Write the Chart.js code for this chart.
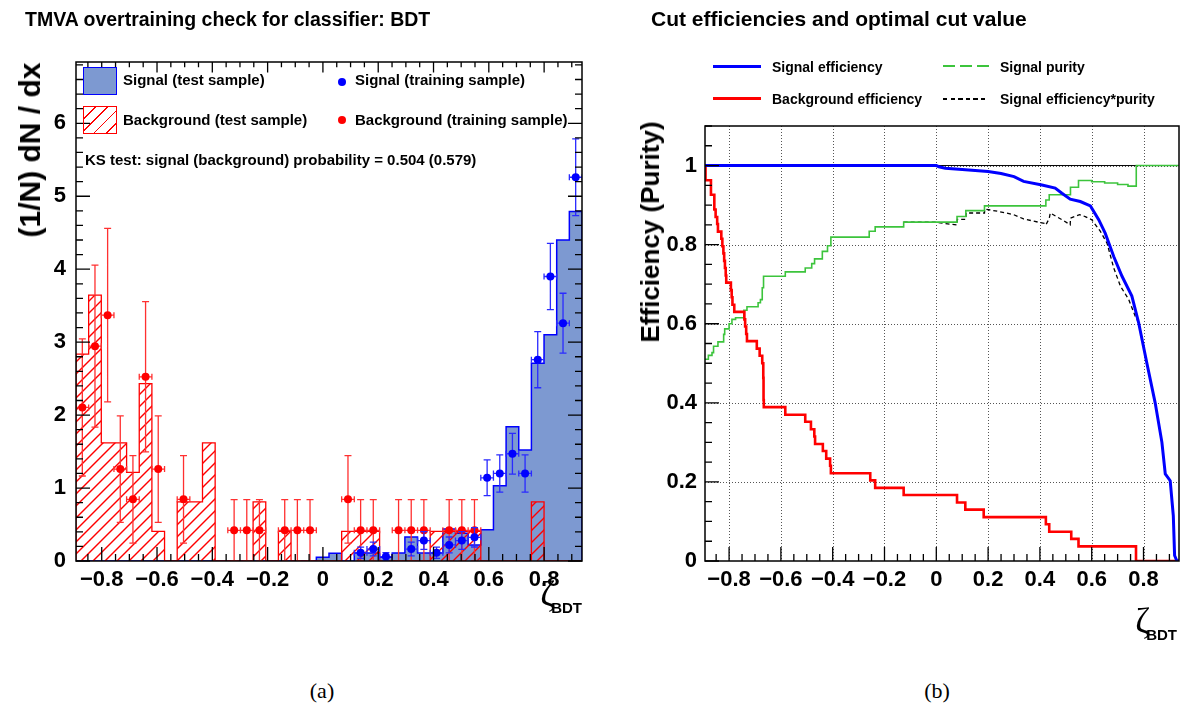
<!DOCTYPE html>
<html>
<head>
<meta charset="utf-8">
<script src="https://cdn.jsdelivr.net/npm/chart.js@4/dist/chart.umd.min.js"></script>
<style>
html,body{margin:0;padding:0;background:#fff;}
body{width:1184px;height:708px;position:relative;overflow:hidden;font-family:"Liberation Sans",Arial,Helvetica,sans-serif;color:#000;}
canvas{position:absolute;top:0;}
.t{position:absolute;white-space:nowrap;font-weight:bold;line-height:1;}
.rot{position:absolute;white-space:nowrap;font-weight:bold;line-height:1;transform:translate(-50%,-50%) rotate(-90deg);}
.cap{position:absolute;font-family:"Liberation Serif","DejaVu Serif",serif;font-size:22px;line-height:1;transform:translateX(-50%);}
.zeta{position:absolute;line-height:1;white-space:nowrap;font-size:36px;}
.zeta .g{font-family:"Liberation Serif",serif;font-size:36px;}
.zeta .s{font-family:"Liberation Sans",sans-serif;font-weight:bold;font-size:15px;position:relative;top:7px;margin-left:-4px;}
.ln{position:absolute;}
</style>
</head>
<body>
<canvas id="cA" width="600" height="620" style="left:0"></canvas>
<canvas id="cB" width="584" height="620" style="left:600px"></canvas>

<div class="t" style="left:25px;top:10px;font-size:19.5px">TMVA overtraining check for classifier: BDT</div>
<div class="t" style="left:651px;top:8px;font-size:21px">Cut efficiencies and optimal cut value</div>

<!-- left legend -->
<div class="ln" style="left:83px;top:67px;width:32px;height:26px;background:#7d99d1;border:1px solid #0000ff;"></div>
<div class="t" style="left:123px;top:72px;font-size:15px">Signal (test sample)</div>
<div class="ln" style="left:83px;top:106px;width:32px;height:26px;border:1px solid #ff0000;background:repeating-linear-gradient(135deg,transparent 0 7.5px,#ff0000 7.5px 8.7px);"></div>
<div class="t" style="left:123px;top:112px;font-size:15px">Background (test sample)</div>
<div class="ln" style="left:338px;top:78px;width:8px;height:8px;border-radius:50%;background:#0000ff"></div>
<div class="t" style="left:355px;top:72px;font-size:15px">Signal (training sample)</div>
<div class="ln" style="left:338px;top:116px;width:8px;height:8px;border-radius:50%;background:#ff0000"></div>
<div class="t" style="left:355px;top:112px;font-size:15px">Background (training sample)</div>
<div class="t" style="left:85px;top:152px;font-size:15px">KS test: signal (background) probability = 0.504 (0.579)</div>

<!-- right legend -->
<div class="ln" style="left:713px;top:65px;width:48px;height:3px;background:#0000ff"></div>
<div class="t" style="left:772px;top:60px;font-size:14px">Signal efficiency</div>
<div class="ln" style="left:713px;top:97px;width:48px;height:3px;background:#ff0000"></div>
<div class="t" style="left:772px;top:92px;font-size:14px">Background efficiency</div>
<div class="ln" style="left:943px;top:65px;width:46px;height:2px;background:repeating-linear-gradient(90deg,#3cc43c 0 12px,transparent 12px 17px)"></div>
<div class="t" style="left:1000px;top:60px;font-size:14px">Signal purity</div>
<div class="ln" style="left:943px;top:98px;width:46px;height:1.5px;background:repeating-linear-gradient(90deg,#000 0 4.5px,transparent 4.5px 7.6px)"></div>
<div class="t" style="left:1000px;top:92px;font-size:14px">Signal efficiency*purity</div>

<!-- axis titles -->
<div class="rot" style="left:30px;top:150px;font-size:30px">(1/N) dN / dx</div>
<div class="rot" style="left:650px;top:232px;font-size:26px">Efficiency (Purity)</div>
<div class="zeta" style="right:602px;top:576px"><span class="g">ζ</span><span class="s">BDT</span></div>
<div class="zeta" style="right:7px;top:603px"><span class="g">ζ</span><span class="s">BDT</span></div>

<div class="cap" style="left:322px;top:680px">(a)</div>
<div class="cap" style="left:937px;top:680px">(b)</div>

<script>
// ---------------- Left panel: classifier output histograms ----------------
const binLo = -0.893, binHi = 0.937, nBins = 40;

const sigTest = [0,0,0,0,0,0,0,0,0,0, 0,0,0,0,0,0,0,0,0,0.05,
                 0.105,0,0.11,0.11,0.05,0.11,0.33,0.11,0.11,0.44,
                 0.38,0.22,0.43,1.03,1.84,1.52,2.71,3.10,4.40,4.79];
const bkgTest = [2.835,3.645,1.62,1.62,1.215,2.43,0.405,0,0.81,0.81,
                 1.62,0,0,0,0.81,0,0.405,0,0,0,
                 0,0.405,0.405,0.405,0,0,0,0,0.405,0.405,
                 0.405,0.405,0,0,0,0,0.81,0,0,0];
const sigTrain = [null,null,null,null,null,null,null,null,null,null,
                  null,null,null,null,null,null,null,null,null,null,
                  null,null,0.114,0.164,0.06,null,0.164,0.28,0.114,0.22,
                  0.28,0.325,1.14,1.20,1.47,1.20,2.76,3.90,3.26,5.26];
const sigTrainErr = [0,0,0,0,0,0,0,0,0,0, 0,0,0,0,0,0,0,0,0,0,
                     0,0,0.077,0.094,0.055,0,0.094,0.122,0.077,0.109,
                     0.122,0.133,0.245,0.255,0.28,0.255,0.385,0.455,0.41,0.525];
const bkgTrain = [2.105,2.945,3.37,1.26,0.845,2.525,1.26,null,0.845,null,
                  null,null,0.42,0.42,0.42,null,0.42,0.42,0.42,null,
                  null,0.845,0.42,0.42,null,0.42,0.42,0.42,null,0.42,
                  0.42,0.42,null,null,null,null,null,null,null,null];
const bkgTrainErr = [0.94,1.11,1.19,0.73,0.6,1.03,0.73,0,0.6,0,
                     0,0,0.42,0.42,0.42,0,0.42,0.42,0.42,0,
                     0,0.6,0.42,0.42,0,0.42,0.42,0.42,0,0.42,
                     0.42,0.42,0,0,0,0,0,0,0,0];

const xTicks = [-0.8,-0.6,-0.4,-0.2,0,0.2,0.4,0.6,0.8];
const xTickLabels = ['\u22120.8','\u22120.6','\u22120.4','\u22120.2','0','0.2','0.4','0.6','0.8'];
const yTicksA = [0,1,2,3,4,5,6];
const yTickLabelsA = ['0','1','2','3','4','5','6'];
const yMaxA = 6.84;

// ---------------- Right panel: cut efficiencies ----------------
const effSigX = [-0.893,0.000,0.010,0.035,0.100,0.200,0.250,0.300,0.337,0.408,0.459,0.485,0.517,0.556,0.595,0.627,0.652,0.685,0.717,0.755,0.781,0.813,0.845,0.871,0.884,0.903,0.915,0.920,0.929,0.937];
const effSigY = [1.000,1.000,0.997,0.993,0.990,0.985,0.980,0.972,0.960,0.951,0.943,0.930,0.915,0.909,0.898,0.863,0.829,0.770,0.720,0.670,0.603,0.500,0.400,0.300,0.220,0.203,0.115,0.014,0.000,0.000];

const effBkgX = [-0.893,-0.891,-0.870,-0.857,-0.852,-0.846,-0.843,-0.830,-0.826,-0.822,-0.819,-0.816,-0.813,-0.811,-0.793,-0.790,-0.787,-0.780,-0.741,-0.738,-0.734,-0.731,-0.693,-0.682,-0.672,-0.668,-0.667,-0.666,-0.583,-0.506,-0.484,-0.471,-0.468,-0.438,-0.425,-0.410,-0.407,-0.255,-0.236,-0.126,0.080,0.112,0.183,0.423,0.436,0.521,0.549,0.771,0.937];
const effBkgY = [1.000,0.963,0.926,0.889,0.870,0.852,0.833,0.815,0.796,0.778,0.759,0.741,0.722,0.704,0.685,0.667,0.648,0.630,0.611,0.593,0.574,0.556,0.537,0.519,0.500,0.463,0.407,0.389,0.370,0.352,0.333,0.315,0.296,0.278,0.259,0.241,0.222,0.204,0.185,0.167,0.148,0.130,0.111,0.093,0.074,0.056,0.037,0.000,0.000];

const purX = [-0.893,-0.880,-0.866,-0.860,-0.843,-0.821,-0.817,-0.800,-0.789,-0.775,-0.743,-0.731,-0.688,-0.679,-0.672,-0.667,-0.583,-0.506,-0.481,-0.470,-0.440,-0.420,-0.407,-0.259,-0.236,-0.126,0.080,0.114,0.186,0.423,0.436,0.518,0.549,0.600,0.650,0.700,0.740,0.772,0.937];
const purY = [0.510,0.520,0.527,0.543,0.554,0.573,0.587,0.600,0.611,0.615,0.634,0.643,0.653,0.661,0.691,0.720,0.731,0.741,0.752,0.764,0.783,0.797,0.819,0.834,0.845,0.857,0.871,0.886,0.898,0.913,0.926,0.945,0.962,0.959,0.956,0.952,0.948,1.000,1.000];

const effPurX = [-0.126,0.000,0.035,0.080,0.081,0.114,0.115,0.186,0.187,0.240,0.298,0.337,0.421,0.423,0.436,0.440,0.466,0.491,0.517,0.518,0.553,0.575,0.600,0.633,0.659,0.685,0.711,0.743,0.768,0.781,0.813,0.845,0.871,0.884,0.903,0.915,0.920,0.929];
const effPurY = [0.857,0.857,0.853,0.850,0.864,0.864,0.880,0.880,0.890,0.884,0.876,0.865,0.853,0.850,0.866,0.880,0.870,0.861,0.850,0.867,0.876,0.871,0.863,0.834,0.804,0.741,0.695,0.661,0.619,0.603,0.500,0.400,0.300,0.220,0.203,0.115,0.014,0.000];

const unityX = [binLo, binHi];
const unityY = [1, 1];

const yTicksB = [0,0.2,0.4,0.6,0.8,1];
const yTickLabelsB = ['0','0.2','0.4','0.6','0.8','1'];
const yMaxB = 1.1;

// ---------------- helpers ----------------
const binW = (binHi - binLo) / nBins;
const edge = i => binLo + i * binW;
function histPoints(vals) {
  const pts = [{x: edge(0), y: 0}];
  vals.forEach((v, i) => pts.push({x: edge(i), y: v}));
  pts.push({x: edge(nBins), y: vals[nBins - 1]});
  pts.push({x: edge(nBins), y: 0});
  return pts;
}
function pointData(vals, errs) {
  const out = [];
  vals.forEach((v, i) => { if (v != null) out.push({x: edge(i) + binW / 2, y: v, e: errs[i]}); });
  return out;
}
const xy = (xs, ys) => xs.map((x, i) => ({x, y: ys[i]}));

function rootAxes(cfg) {
  return {
    id: 'rootAxes',
    beforeDatasetsDraw(chart) {
      if (!cfg.grid) return;
      const {ctx, chartArea: a, scales: {x, y}} = chart;
      ctx.save();
      ctx.strokeStyle = '#555'; ctx.lineWidth = 1; ctx.setLineDash([1, 2]);
      ctx.beginPath();
      cfg.xMajor.forEach(v => { const p = Math.round(x.getPixelForValue(v)) + 0.5; ctx.moveTo(p, a.top); ctx.lineTo(p, a.bottom); });
      cfg.yMajor.forEach(v => { if (v <= 0) return; const p = Math.round(y.getPixelForValue(v)) + 0.5; ctx.moveTo(a.left, p); ctx.lineTo(a.right, p); });
      ctx.stroke();
      ctx.restore();
    },
    afterDatasetsDraw(chart) {
      const {ctx, chartArea: a, scales: {x, y}} = chart;
      ctx.save();
      ctx.strokeStyle = '#000'; ctx.lineWidth = 1.3; ctx.setLineDash([]);
      const isMajor = (v, arr) => arr.some(m => Math.abs(m - v) < 1e-6);
      ctx.beginPath();
      for (let k = Math.ceil(x.min / cfg.xStep - 1e-9); k * cfg.xStep <= x.max + 1e-9; k++) {
        const v = k * cfg.xStep, p = x.getPixelForValue(v);
        const L = isMajor(v, cfg.xMajor) ? cfg.major : cfg.minor;
        ctx.moveTo(p, a.bottom); ctx.lineTo(p, a.bottom - L);
        if (cfg.mirror) { ctx.moveTo(p, a.top); ctx.lineTo(p, a.top + L * 0.75); }
      }
      for (let k = Math.ceil(y.min / cfg.yStep - 1e-9); k * cfg.yStep <= y.max + 1e-9; k++) {
        const v = k * cfg.yStep, p = y.getPixelForValue(v);
        const L = isMajor(v, cfg.yMajor) ? cfg.major : cfg.minor;
        ctx.moveTo(a.left, p); ctx.lineTo(a.left + L, p);
        if (cfg.mirror) { ctx.moveTo(a.right, p); ctx.lineTo(a.right - L, p); }
      }
      ctx.stroke();
      ctx.lineWidth = cfg.frame;
      ctx.strokeRect(a.left, a.top, a.right - a.left, a.bottom - a.top);
      ctx.restore();
    }
  };
}

// diagonal hatching inside the stepped histogram, using the element positions computed by Chart.js
const hatch = {
  id: 'hatch',
  beforeDatasetDraw(chart, args) {
    const ds = chart.data.datasets[args.index];
    if (!ds.hatchColor) return;
    const pts = args.meta.data;
    const {ctx, chartArea: a, scales: {y}} = chart;
    const y0 = y.getPixelForValue(0);
    ctx.save();
    ctx.beginPath(); ctx.rect(a.left, a.top, a.right - a.left, a.bottom - a.top); ctx.clip();
    ctx.beginPath();
    ctx.moveTo(pts[0].x, y0);
    ctx.lineTo(pts[0].x, pts[0].y);
    for (let i = 1; i < pts.length; i++) { ctx.lineTo(pts[i].x, pts[i - 1].y); ctx.lineTo(pts[i].x, pts[i].y); }
    ctx.lineTo(pts[pts.length - 1].x, y0);
    ctx.closePath();
    ctx.clip();
    ctx.strokeStyle = ds.hatchColor; ctx.lineWidth = 1.4;
    ctx.beginPath();
    const H = a.bottom - a.top;
    for (let x = a.left - H; x < a.right + 12; x += 12) { ctx.moveTo(x, a.bottom); ctx.lineTo(x + H, a.top); }
    ctx.stroke();
    ctx.restore();
  }
};

const errBars = {
  id: 'errBars',
  beforeDatasetDraw(chart, args) {
    const ds = chart.data.datasets[args.index];
    if (!ds.errColor) return;
    const {ctx, chartArea: a, scales: {x: xs, y: ys}} = chart;
    ctx.save();
    ctx.beginPath(); ctx.rect(a.left, a.top, a.right - a.left, a.bottom - a.top); ctx.clip();
    ctx.strokeStyle = ds.errColor; ctx.lineWidth = 1.3;
    ctx.beginPath();
    ds.data.forEach(p => {
      const px = xs.getPixelForValue(p.x), py = ys.getPixelForValue(p.y);
      const y1 = ys.getPixelForValue(p.y + p.e), y0 = ys.getPixelForValue(Math.max(0, p.y - p.e));
      const x0 = xs.getPixelForValue(p.x - binW / 2), x1 = xs.getPixelForValue(p.x + binW / 2);
      ctx.moveTo(px, y0); ctx.lineTo(px, y1);
      ctx.moveTo(px - 3.5, y0); ctx.lineTo(px + 3.5, y0);
      ctx.moveTo(px - 3.5, y1); ctx.lineTo(px + 3.5, y1);
      ctx.moveTo(x0, py); ctx.lineTo(x1, py);
      ctx.moveTo(x0, py - 3); ctx.lineTo(x0, py + 3);
      ctx.moveTo(x1, py - 3); ctx.lineTo(x1, py + 3);
    });
    ctx.stroke();
    ctx.restore();
  }
};

const FONT = "'Liberation Sans', Arial, Helvetica, sans-serif";
function xScale() {
  return {
    type: 'linear', min: binLo, max: binHi,
    afterBuildTicks: s => { s.ticks = xTicks.map(v => ({value: v})); },
    afterFit: s => { s.height = 59; },
    grid: {display: false, drawTicks: false}, border: {display: false},
    ticks: {autoSkip: false, maxRotation: 0, minRotation: 0, padding: 6, color: '#000',
            font: {family: FONT, weight: 'bold', size: 22}, callback: (v, i) => xTickLabels[i]}
  };
}
function yScale(max, ticks, labels, width, pad) {
  return {
    type: 'linear', min: 0, max: max,
    afterBuildTicks: s => { s.ticks = ticks.map(v => ({value: v})); },
    afterFit: s => { s.width = width; },
    grid: {display: false, drawTicks: false}, border: {display: false},
    ticks: {autoSkip: false, padding: pad, color: '#000',
            font: {family: FONT, weight: 'bold', size: 22}, callback: (v, i) => labels[i]}
  };
}
const common = {
  responsive: false, animation: false, events: [],
  plugins: {legend: {display: false}, tooltip: {enabled: false}}
};

// ---------------- Chart A ----------------
new Chart(document.getElementById('cA'), {
  type: 'line',
  data: {
    datasets: [
      {label: 'Signal (test sample)', data: histPoints(sigTest), stepped: 'before', fill: 'origin',
       backgroundColor: '#7d99d1', borderColor: '#0000ff', borderWidth: 1.5, pointRadius: 0, order: 4},
      {label: 'Background (test sample)', data: histPoints(bkgTest), stepped: 'before', fill: false,
       hatchColor: '#ff0000', borderColor: '#ff0000', borderWidth: 1.3, pointRadius: 0, order: 3},
      {label: 'Background (training sample)', data: pointData(bkgTrain, bkgTrainErr), showLine: false,
       pointRadius: 4, pointBackgroundColor: '#ff0000', pointBorderWidth: 0, errColor: '#ff3030', order: 2},
      {label: 'Signal (training sample)', data: pointData(sigTrain, sigTrainErr), showLine: false,
       pointRadius: 4, pointBackgroundColor: '#0000ff', pointBorderWidth: 0, errColor: '#2a2aff', order: 1}
    ]
  },
  options: Object.assign({}, common, {
    layout: {padding: {top: 62, right: 18, left: 0, bottom: 0}},
    scales: {x: xScale(), y: yScale(yMaxA, yTicksA, yTickLabelsA, 76, 10)}
  }),
  plugins: [rootAxes({xMajor: xTicks, yMajor: yTicksA, xStep: 0.05, yStep: 0.2, major: 14, minor: 7, mirror: true, grid: false, frame: 1.5}), hatch, errBars]
});

// ---------------- Chart B ----------------
new Chart(document.getElementById('cB'), {
  type: 'line',
  data: {
    datasets: [
      {label: 'unity', data: xy(unityX, unityY), borderColor: '#000', borderWidth: 1, pointRadius: 0, order: 9},
      {label: 'Signal efficiency*purity', data: xy(effPurX, effPurY), borderColor: '#000', borderWidth: 1.3,
       borderDash: [4, 3], pointRadius: 0, order: 5},
      {label: 'Signal purity', data: xy(purX, purY), stepped: 'before', borderColor: '#3cc43c', borderWidth: 1.6,
       pointRadius: 0, order: 4},
      {label: 'Background efficiency', data: xy(effBkgX, effBkgY), stepped: 'before', borderColor: '#ff0000',
       borderWidth: 2.6, pointRadius: 0, order: 3},
      {label: 'Signal efficiency', data: xy(effSigX, effSigY), borderColor: '#0000ff', borderWidth: 3,
       pointRadius: 0, order: 1}
    ]
  },
  options: Object.assign({}, common, {
    layout: {padding: {top: 126, right: 5, left: 0, bottom: 0}},
    scales: {x: xScale(), y: yScale(yMaxB, yTicksB, yTickLabelsB, 105, 8)}
  }),
  plugins: [rootAxes({xMajor: xTicks, yMajor: yTicksB, xStep: 0.05, yStep: 0.05, major: 14, minor: 7, mirror: false, grid: true, frame: 1.5})]
});
</script>
</body>
</html>
